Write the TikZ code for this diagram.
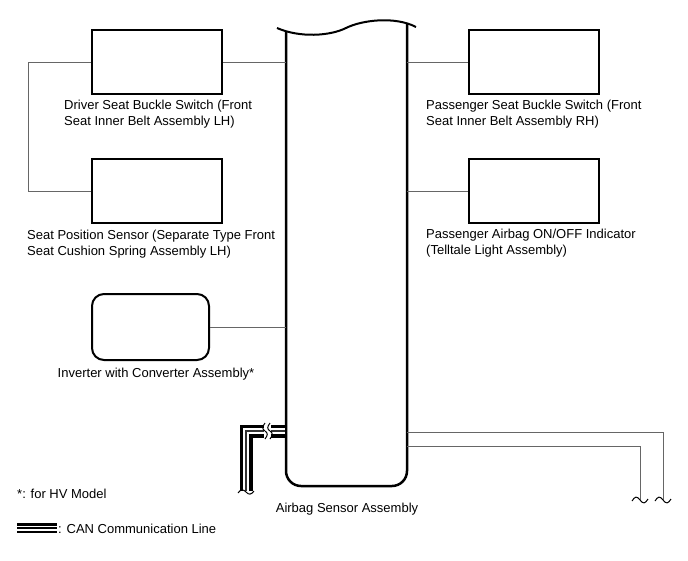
\documentclass[tikz,border=0pt]{standalone}
\usepackage{fontspec}
\setmainfont{Liberation Sans}
\usetikzlibrary{calc}
\begin{document}
\begin{tikzpicture}[x=1pt,y=-1pt,
  box/.style={draw=black,line width=2pt,minimum width=130pt,minimum height=64pt,inner sep=0pt},
  rbox/.style={draw=black,line width=2pt,rounded corners=12pt,minimum width=117pt,minimum height=66pt,inner sep=0pt},
  lbl/.style={font=\fontsize{13}{16}\selectfont,align=left,inner sep=0pt,text=black},
  wire/.style={draw=black!60,line width=1pt},
  mainline/.style={draw=black,line width=2.5pt},
  brk/.style={draw=black,line width=1pt}]
\useasboundingbox (0,0) rectangle (688,560);
% main assembly
\draw[line width=2pt] (277,28) .. controls (300,38) and (330,36) .. (346,28) .. controls (362,20) and (395,16) .. (416,27);
\draw[mainline,rounded corners=15pt] (286,31) -- (286,486) -- (407,486) -- (407,24);
\coordinate (mL62) at (286,62);
\coordinate (mL327) at (286,327);
\coordinate (mR62) at (407,62);
\coordinate (mR191) at (407,191);
\coordinate (mR432) at (407,432);
\coordinate (mR446) at (407,446);
\coordinate (mL431) at (285,431);
% boxes
\node[box] (dsb) at (157,62) {};
\node[box] (sps) at (157,191) {};
\node[box] (psb) at (533.5,62) {};
\node[box] (pai) at (533.5,191) {};
\node[rbox] (inv) at (150.5,327) {};
% labels
\node[lbl,anchor=north west] (dsbl) at (64,100) {Driver Seat Buckle Switch (Front\\Seat Inner Belt Assembly LH)};
\node[lbl,anchor=north west] (spsl) at (27,230) {Seat Position Sensor (Separate Type Front\\Seat Cushion Spring Assembly LH)};
\node[lbl,anchor=north west] (psbl) at (426,100) {Passenger Seat Buckle Switch (Front\\Seat Inner Belt Assembly RH)};
\node[lbl,anchor=north west] (pail) at (426,229) {Passenger Airbag ON/OFF Indicator\\(Telltale Light Assembly)};
\node[lbl,anchor=north] (invl) at (156,368) {Inverter with Converter Assembly*};
\node[lbl,anchor=north] (absl) at (347,503) {Airbag Sensor Assembly};
\node[lbl,anchor=north west] (hvl) at (17,489) {*: for HV Model};
\node[lbl,anchor=north west] (canl) at (58,524) {: CAN Communication Line};
% wires
\draw[wire] (dsb.east) -- (mL62);
\draw[wire] (dsb.west) -- (28,62) -- (28,191) -- (sps.west);
\draw[wire] (inv.east) -- (mL327);
\draw[wire] (mR62) -- (psb.west);
\draw[wire] (mR191) -- (pai.west);
\coordinate (e1) at (663,500);
\coordinate (e2) at (640,500);
\draw[wire] (mR432) -- (663,432) -- (e1);
\draw[wire] (mR446) -- (640,446) -- (e2);
\draw[brk] ($(e2)+(-8,1)$) .. controls ($(e2)+(-5,-4)$) and ($(e2)+(-3,-4)$) .. (e2) .. controls ($(e2)+(3,4)$) and ($(e2)+(5,4)$) .. ($(e2)+(8,-1)$);
\draw[brk] ($(e1)+(-8,1)$) .. controls ($(e1)+(-5,-4)$) and ($(e1)+(-3,-4)$) .. (e1) .. controls ($(e1)+(3,4)$) and ($(e1)+(5,4)$) .. ($(e1)+(8,-1)$);
% CAN line
\coordinate (canc) at (246,431);
\coordinate (canb) at (246,492);
\draw[line width=13pt,miter limit=10] (mL431) -- (canc) -- (canb);
\draw[white,line width=6pt] (mL431) -- (canc) -- (canb);
\draw[black!80,line width=2.6pt] (mL431) -- (canc) -- (canb);
\fill[white] (264,423) rectangle (271,439);
\draw[brk] (265,423) .. controls (262,427) and (262,429) .. (265,431) .. controls (268,433) and (268,435) .. (265,439);
\draw[brk] (270,423) .. controls (267,427) and (267,429) .. (270,431) .. controls (273,433) and (273,435) .. (270,439);
\fill[white] (238,491) rectangle (255,500);
\draw[brk] (238,493) .. controls (241,489) and (243,489) .. (246,492) .. controls (249,495) and (251,495) .. (254,491);
% legend
\coordinate (lg1) at (17,528);
\coordinate (lg2) at (57,528);
\draw[line width=10.5pt] (lg1) -- (lg2);
\draw[white,line width=5pt] (lg1) -- (lg2);
\draw[black,line width=2.2pt] (lg1) -- (lg2);
\end{tikzpicture}
\end{document}
